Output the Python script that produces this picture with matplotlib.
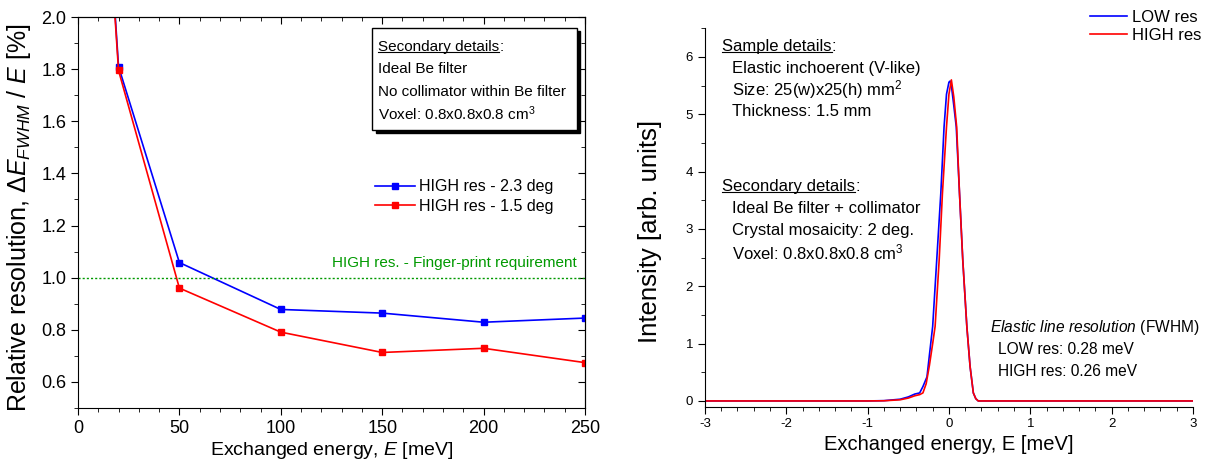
import numpy as np
import matplotlib
matplotlib.use('Agg')
import matplotlib.pyplot as plt
from matplotlib.lines import Line2D
from matplotlib.patches import Rectangle
from matplotlib.ticker import MultipleLocator

plt.rcParams['font.family'] = ['Liberation Sans', 'DejaVu Sans']
plt.rcParams['mathtext.fontset'] = 'custom'
plt.rcParams['mathtext.rm'] = 'Liberation Sans'
plt.rcParams['mathtext.it'] = 'Liberation Sans:italic'
plt.rcParams['axes.unicode_minus'] = False

# left panel: relative resolution vs exchanged energy
energy = [10, 20, 50, 100, 150, 200, 250]
res_23deg = [3.0, 1.81, 1.058, 0.878, 0.864, 0.829, 0.845]
res_15deg = [2.98, 1.795, 0.960, 0.791, 0.713, 0.729, 0.674]
requirement = 1.0

# right panel: elastic line
e_low = [-3.0, -1.0, -0.8, -0.6, -0.5, -0.42, -0.36, -0.32, -0.27, -0.24, -0.20,
         -0.15, -0.10, -0.06, -0.03, 0.0, 0.015, 0.03, 0.06, 0.09, 0.13, 0.17,
         0.22, 0.26, 0.30, 0.33, 0.36, 3.0]
i_low = [0.0, 0.0, 0.005, 0.03, 0.07, 0.12, 0.14, 0.25, 0.42, 0.8, 1.3,
         2.46, 3.62, 4.78, 5.35, 5.56, 5.58, 5.5, 5.15, 4.78, 3.62, 2.46,
         1.3, 0.6, 0.14, 0.04, 0.0, 0.0]
e_high = [-3.0, -1.0, -0.8, -0.6, -0.5, -0.42, -0.36, -0.32, -0.28, -0.24, -0.20,
          -0.17, -0.12, -0.08, -0.03, 0.0, 0.03, 0.06, 0.095, 0.13, 0.17,
          0.22, 0.26, 0.30, 0.33, 0.36, 3.0]
i_high = [0.0, 0.0, 0.003, 0.02, 0.05, 0.09, 0.11, 0.14, 0.3, 0.62, 1.0,
          1.3, 2.46, 3.62, 4.78, 5.35, 5.6, 5.3, 4.78, 3.62, 2.46,
          1.3, 0.6, 0.14, 0.04, 0.0, 0.0]

fig = plt.figure(figsize=(12.05, 4.66), dpi=100)

# ---------- left panel ----------
ax1 = fig.add_axes([0.0647, 0.1245, 0.4208, 0.839])
ax1.plot(energy, res_23deg, '-s', color='#0000ff', lw=1.2, ms=5, label='HIGH res - 2.3 deg')
ax1.plot(energy, res_15deg, '-s', color='#ff0000', lw=1.2, ms=5, label='HIGH res - 1.5 deg')
ax1.axhline(requirement, color='#009900', lw=1.0, ls=(0, (1.5, 1.5)))
ax1.text(246, 1.058, 'HIGH res. - Finger-print requirement', color='#009900',
         fontsize=11, ha='right', va='center')
ax1.set_xlim(0, 250)
ax1.set_ylim(0.5, 2.0)
ax1.xaxis.set_major_locator(MultipleLocator(50))
ax1.xaxis.set_minor_locator(MultipleLocator(10))
ax1.yaxis.set_major_locator(MultipleLocator(0.2))
ax1.yaxis.set_minor_locator(MultipleLocator(0.1))
ax1.set_yticks([0.6, 0.8, 1.0, 1.2, 1.4, 1.6, 1.8, 2.0])
ax1.tick_params(which='both', direction='out', labelsize=13)
ax1.tick_params(which='major', length=5)
ax1.tick_params(which='minor', length=3)
# mirrored ticks pointing inwards
top = ax1.secondary_xaxis('top')
top.xaxis.set_major_locator(MultipleLocator(50))
top.xaxis.set_minor_locator(MultipleLocator(10))
top.tick_params(which='both', direction='in', labeltop=False)
top.tick_params(which='major', length=5)
top.tick_params(which='minor', length=3)
right = ax1.secondary_yaxis('right')
right.yaxis.set_major_locator(MultipleLocator(0.2))
right.yaxis.set_minor_locator(MultipleLocator(0.1))
right.tick_params(which='both', direction='in', labelright=False)
right.tick_params(which='major', length=5)
right.tick_params(which='minor', length=3)

ax1.set_xlabel('Exchanged energy, $E$ [meV]', fontsize=14, labelpad=2)
ax1.set_ylabel('Relative resolution, $\\mathit{\u0394E}_{FWHM}$ / $E$ [%]', fontsize=18)
ax1.yaxis.set_label_coords(-0.088, 0.488)

# info box with shadow
ax1.add_patch(Rectangle((0.587, 0.704), 0.404, 0.261, transform=ax1.transAxes,
                        facecolor='black', edgecolor='black', zorder=5))
ax1.add_patch(Rectangle((0.58, 0.711), 0.404, 0.261, transform=ax1.transAxes,
                        facecolor='white', edgecolor='black', lw=1, zorder=6))
box_lines = ['Ideal Be filter', 'No collimator within Be filter',
             'Voxel: 0.8x0.8x0.8 cm$^3$']
ax1.text(0.592, 0.923, 'Secondary details', transform=ax1.transAxes, fontsize=11,
         va='center', zorder=7, gid='ul1')
for k, s in enumerate(box_lines):
    ax1.text(0.592, 0.866 - k * 0.057, s, transform=ax1.transAxes, fontsize=11,
             va='center', zorder=7)

ax1.legend(loc='upper left', bbox_to_anchor=(0.585, 0.585), frameon=False,
           fontsize=11.5, handlelength=2.5, handletextpad=0.3, borderpad=0,
           borderaxespad=0, labelspacing=0.3)

# ---------- right panel ----------
ax2 = fig.add_axes([0.585, 0.1273, 0.405, 0.812])
ax2.plot(e_low, i_low, color='#0000ff', lw=1.2, label='LOW res')
ax2.plot(e_high, i_high, color='#ff0000', lw=1.2, label='HIGH res')
ax2.set_xlim(-3, 3)
ax2.set_ylim(-0.1, 6.5)
ax2.spines['top'].set_visible(False)
ax2.spines['right'].set_visible(False)
ax2.xaxis.set_major_locator(MultipleLocator(1))
ax2.xaxis.set_minor_locator(MultipleLocator(0.2))
ax2.yaxis.set_major_locator(MultipleLocator(1))
ax2.yaxis.set_minor_locator(MultipleLocator(0.5))
ax2.set_yticks([0, 1, 2, 3, 4, 5, 6])
ax2.tick_params(which='both', direction='out', labelsize=9.5)
ax2.tick_params(which='major', length=5)
ax2.tick_params(which='minor', length=3)
ax2.set_xlabel('Exchanged energy, E [meV]', fontsize=14.5, labelpad=3)
ax2.set_ylabel('Intensity [arb. units]', fontsize=18.5)
ax2.yaxis.set_label_coords(-0.088, 0.462)

ax2.text(0.035, 0.951, 'Sample details', transform=ax2.transAxes, fontsize=12,
         va='center', gid='ul2')
sample_lines = ['Elastic inchoerent (V-like)', 'Size: 25(w)x25(h) mm$^2$',
                'Thickness: 1.5 mm']
for k, s in enumerate(sample_lines):
    ax2.text(0.055, 0.895 - k * 0.057, s, transform=ax2.transAxes, fontsize=12, va='center')
ax2.text(0.035, 0.581, 'Secondary details', transform=ax2.transAxes, fontsize=12,
         va='center', gid='ul3')
sec_lines = ['Ideal Be filter + collimator', 'Crystal mosaicity: 2 deg.',
             'Voxel: 0.8x0.8x0.8 cm$^3$']
for k, s in enumerate(sec_lines):
    ax2.text(0.055, 0.523 - k * 0.058, s, transform=ax2.transAxes, fontsize=12, va='center')

ax2.text(0.584, 0.2105, '$\\mathit{Elastic\\ line\\ resolution}$ (FWHM)', transform=ax2.transAxes,
         fontsize=11.2, va='center')
ax2.text(0.60, 0.151, 'LOW res: 0.28 meV', transform=ax2.transAxes, fontsize=11.2, va='center')
ax2.text(0.60, 0.094, 'HIGH res: 0.26 meV', transform=ax2.transAxes, fontsize=11.2, va='center')

fig.legend(*ax2.get_legend_handles_labels(), loc='upper right', bbox_to_anchor=(1.004, 0.997),
           frameon=False, fontsize=12, handlelength=2.2, handletextpad=0.3,
           borderpad=0, labelspacing=0.2)

# underline headers and add the colon after them
fig.canvas.draw()
rend = fig.canvas.get_renderer()
inv = fig.transFigure.inverted()
for ax in (ax1, ax2):
    for t in ax.texts:
        if t.get_gid() and t.get_gid().startswith('ul'):
            bb = t.get_window_extent(rend)
            em = t.get_fontsize() * fig.dpi / 72.0
            y = bb.y0 + 0.12 * em
            (x0, yf), (x1, _) = inv.transform([(bb.x0, y), (bb.x1, y)])
            fig.add_artist(Line2D([x0, x1], [yf, yf], color='black', lw=0.8,
                                  transform=fig.transFigure, zorder=10))
            cx, cy = inv.transform([(bb.x1, (bb.y0 + bb.y1) / 2)])[0]
            fig.text(cx, cy, ':', fontsize=t.get_fontsize(), va='center', zorder=10)

fig.savefig('out.png', dpi=100)
